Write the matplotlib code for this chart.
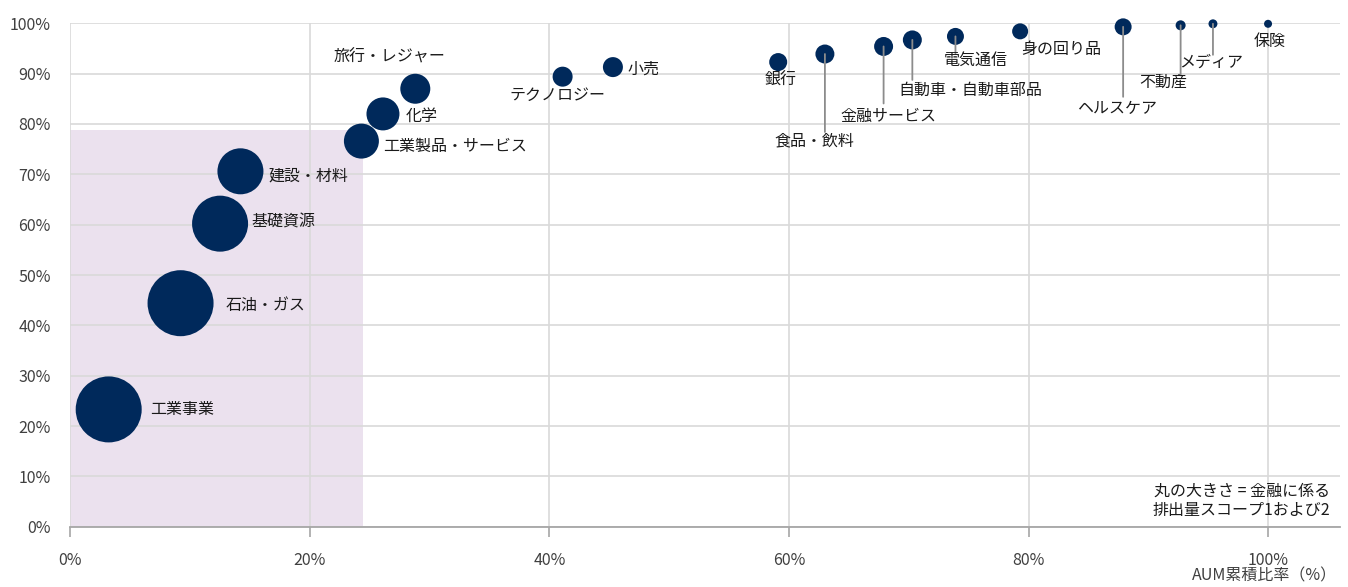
import numpy as np
import matplotlib
matplotlib.use("Agg")
import matplotlib.pyplot as plt
from matplotlib.ticker import MultipleLocator, FuncFormatter

plt.rcParams['font.family'] = ['Noto Sans CJK JP', 'DejaVu Sans']

# data
sectors = ["工業事業", "石油・ガス", "基礎資源", "建設・材料", "工業製品・サービス",
           "化学", "旅行・レジャー", "テクノロジー", "小売", "銀行", "食品・飲料",
           "金融サービス", "自動車・自動車部品", "電気通信", "身の回り品",
           "ヘルスケア", "不動産", "メディア", "保険"]
aum_cum = [3.2, 9.2, 12.5, 14.2, 24.3, 26.1, 28.8, 41.1, 45.3, 59.1, 63.0,
           67.9, 70.3, 73.9, 79.3, 87.9, 92.7, 95.4, 100.0]
emis_cum = [23.3, 44.4, 60.2, 70.6, 76.6, 82.0, 87.0, 89.4, 91.3, 92.3, 93.9,
            95.4, 96.7, 97.4, 98.4, 99.3, 99.6, 99.9, 99.9]
# relative financed scope 1+2 emissions (bubble area)
emis_size = [1089, 1089, 784, 529, 306, 272, 225, 100, 100, 81, 90,
             90, 90, 72, 64, 72, 25, 20, 16]
highlight_x = 24.4
highlight_y = 78.8

# label layout: (dx px, dy px downward, ha, leader length px or 0)
layout = [(41, 0, "left", 0), (45, 2, "left", 0), (31.5, -1.5, "left", 0),
          (28, 4.5, "left", 0), (21.5, 5, "left", 0), (22.5, 2.5, "left", 0),
          (-26, -32, "center", 0), (-5.5, 18.5, "center", 0), (15, 2.5, "left", 0),
          (2, 18, "center", 0), (-10.5, 87, "center", 78), (4.5, 70, "center", 57),
          (57.5, 50, "center", 40), (20.5, 24, "center", 17), (41, 18, "center", 0),
          (-6.5, 82, "center", 70), (-17, 57, "center", 50), (-1.5, 38.7, "center", 31),
          (2, 18, "center", 0)]

NAVY = "#00295B"
PX = 0.72  # points per pixel at 100 dpi

fig = plt.figure(figsize=(13.48, 5.87), dpi=100)
ax = fig.add_axes([0.0522, 0.1027, 0.9418, 0.8576])

ax.add_patch(plt.Rectangle((0, 0), highlight_x, highlight_y, color="#EBE1EE",
                           lw=0, zorder=0))

ax.scatter(aum_cum, emis_cum, s=np.array(emis_size) * (2 * PX) ** 2,
           color=NAVY, linewidths=0, zorder=3, clip_on=False)

for name, x, y, (dx, dy, ha, lead) in zip(sectors, aum_cum, emis_cum, layout):
    if lead:
        ax.annotate("", xy=(x, y), xytext=(0, -lead * PX), textcoords="offset points",
                    arrowprops=dict(arrowstyle="-", color="#8C8C8C", lw=1.3,
                                    shrinkA=0, shrinkB=0), zorder=4)
    ax.annotate(name, xy=(x, y), xytext=(dx * PX, -dy * PX), textcoords="offset points",
                ha=ha, va="center", fontsize=11.5, color="#1A1A1A", zorder=5)

ax.set_xlim(0, 106)
ax.set_ylim(0, 100)
ax.xaxis.set_major_locator(MultipleLocator(20))
ax.yaxis.set_major_locator(MultipleLocator(10))
ax.xaxis.set_major_formatter(FuncFormatter(lambda v, p: f"{v:.0f}%"))
ax.yaxis.set_major_formatter(FuncFormatter(lambda v, p: f"{v:.0f}%"))
ax.grid(True, color="#D9D9D9", lw=1.2, zorder=1)
ax.set_axisbelow(True)
for s in ["top", "right", "left"]:
    ax.spines[s].set_visible(False)
ax.spines["bottom"].set_color("#A6A6A6")
ax.spines["bottom"].set_linewidth(1.3)
ax.tick_params(axis="y", length=0, pad=14, labelsize=11.5, labelcolor="#404040")
ax.tick_params(axis="x", length=7, width=1.2, color="#A6A6A6", pad=11,
               labelsize=11.5, labelcolor="#404040")

ax.text(0.992, 0.015, "丸の大きさ = 金融に係る\n排出量スコープ1および2",
        transform=ax.transAxes, ha="right", va="bottom", fontsize=11.5,
        color="#1A1A1A", linespacing=1.2)
fig.text(0.992, 0.004, "AUM累積比率（%）", ha="right", va="bottom",
         fontsize=11.5, color="#404040")

fig.savefig("out.png", dpi=100)
